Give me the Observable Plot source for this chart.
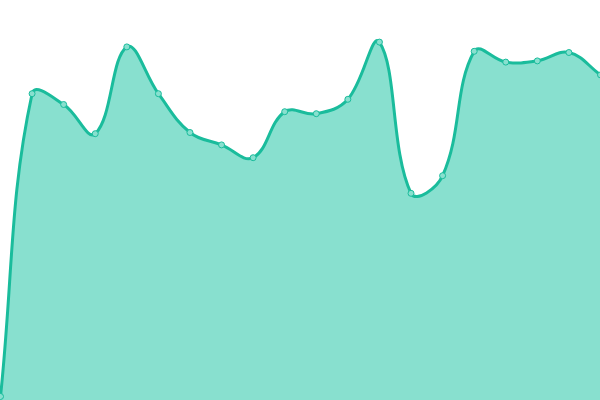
<!DOCTYPE html>
<html>
<head>
<meta charset="utf-8">
<script src="https://cdn.jsdelivr.net/npm/d3@7"></script>
<script src="https://cdn.jsdelivr.net/npm/@observablehq/plot@0.6"></script>
<style>
  html, body { margin: 0; padding: 0; background: #fff; }
  #chart svg { display: block; }
</style>
</head>
<body>
<div id="chart"></div>
<script>
const categories = d3.range(20);
const values = [1, 76.7, 74, 66.7, 88.4, 76.7, 67, 63.9, 60.7, 72.2, 71.7, 75.3, 89.6, 51.8, 56.2, 87.3, 84.6, 84.9, 87, 81.4];

const data = categories.map((c, i) => ({x: c, y: values[i]}));

// Tension-based spline (distance-weighted control points, tension 0.4)
function TensionSpline(context) { this._context = context; this._t = 0.4; }
TensionSpline.prototype = {
  areaStart() { this._line = 0; },
  areaEnd() { this._line = NaN; },
  lineStart() { this._x = []; this._y = []; },
  point(x, y) { this._x.push(+x); this._y.push(+y); },
  lineEnd() {
    const xs = this._x, ys = this._y, n = xs.length, t = this._t, ctx = this._context;
    if (n) {
      this._line ? ctx.lineTo(xs[0], ys[0]) : ctx.moveTo(xs[0], ys[0]);
      if (n === 2) ctx.lineTo(xs[1], ys[1]);
      else if (n > 2) {
        const cpPrev = [], cpNext = [];
        for (let i = 0; i < n; i++) {
          const pi = Math.max(0, i - 1), ni = Math.min(n - 1, i + 1);
          const d01 = Math.hypot(xs[i] - xs[pi], ys[i] - ys[pi]);
          const d12 = Math.hypot(xs[ni] - xs[i], ys[ni] - ys[i]);
          let s01 = d01 / (d01 + d12), s12 = d12 / (d01 + d12);
          if (isNaN(s01)) s01 = 0;
          if (isNaN(s12)) s12 = 0;
          const fa = t * s01, fb = t * s12;
          const dx = xs[ni] - xs[pi], dy = ys[ni] - ys[pi];
          cpPrev[i] = [xs[i] - fa * dx, ys[i] - fa * dy];
          cpNext[i] = [xs[i] + fb * dx, ys[i] + fb * dy];
        }
        for (let i = 0; i < n - 1; i++) {
          ctx.bezierCurveTo(cpNext[i][0], cpNext[i][1], cpPrev[i + 1][0], cpPrev[i + 1][1], xs[i + 1], ys[i + 1]);
        }
      }
    }
    if (this._line || (this._line !== 0 && n === 1)) ctx.closePath();
    this._line = 1 - this._line;
    this._x = this._y = null;
  }
};
const tensionCurve = (context) => new TensionSpline(context);

const chart = Plot.plot({
  width: 600,
  height: 400,
  margin: 0,
  x: {domain: [0, 19], axis: null},
  y: {domain: [0, 100], axis: null},
  marks: [
    Plot.areaY(data, {x: "x", y: "y", curve: tensionCurve, fill: "#88e0cf"}),
    Plot.line(data, {x: "x", y: "y", curve: tensionCurve, stroke: "#1abc9c", strokeWidth: 3}),
    Plot.dot(data, {x: "x", y: "y", r: 3, fill: "#88e0cf", stroke: "#1abc9c", strokeWidth: 1})
  ]
});
document.getElementById("chart").appendChild(chart);
</script>
</body>
</html>
